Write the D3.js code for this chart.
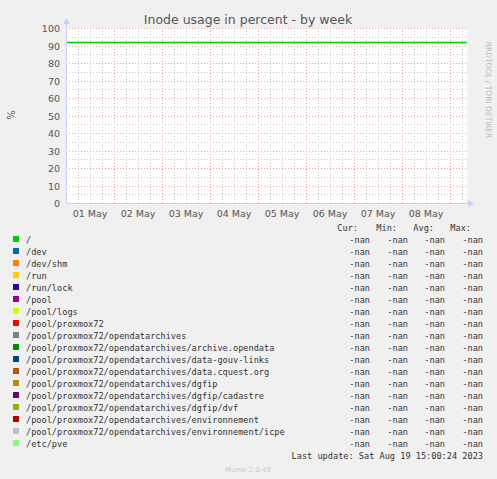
<!DOCTYPE html>
<html><head><meta charset="utf-8">
<script src="https://cdn.jsdelivr.net/npm/d3@7"></script>
<style>body{margin:0;background:#f0f0f0}svg{display:block}</style>
</head><body><svg id="c" width="497" height="479"></svg>
<script>
var names = ['/','/dev','/dev/shm','/run','/run/lock','/pool','/pool/logs','/pool/proxmox72',
 '/pool/proxmox72/opendatarchives','/pool/proxmox72/opendatarchives/archive.opendata',
 '/pool/proxmox72/opendatarchives/data-gouv-links','/pool/proxmox72/opendatarchives/data.cquest.org',
 '/pool/proxmox72/opendatarchives/dgfip','/pool/proxmox72/opendatarchives/dgfip/cadastre',
 '/pool/proxmox72/opendatarchives/dgfip/dvf','/pool/proxmox72/opendatarchives/environnement',
 '/pool/proxmox72/opendatarchives/environnement/icpe','/etc/pve'];
var colors = ['#00cc00','#0066b3','#ff8000','#ffcc00','#330099','#990099','#ccff00','#ff0000','#808080',
 '#008f00','#00487d','#b35a00','#b38f00','#6b006b','#8fb300','#b30000','#bebebe','#80ff80'];
var rootSeries = [92, 92];
var dayLabels = ['01 May','02 May','03 May','04 May','05 May','06 May','07 May','08 May'];
var yTicks = d3.range(0, 101, 10);

var svg = d3.select('#c');
var L = 66, R = 467, T = 28, B = 203;
var t0 = new Date(2023,4,1), t1 = new Date(t0.getTime() + 8.354*864e5);
var x = d3.scaleTime().domain([t0,t1]).range([L,R]);
var y = d3.scaleLinear().domain([0,100]).range([B,T]);

svg.append('rect').attr('x',L).attr('y',T).attr('width',R-L).attr('height',B-T).attr('fill','#fff');
var g = svg.append('g').attr('shape-rendering','crispEdges');
d3.timeHour.every(6).range(t0,t1).forEach(function(d){
  var px = Math.round(x(d))+0.5, major = d.getHours()===0;
  g.append('line').attr('x1',px).attr('x2',px).attr('y1',T).attr('y2',B)
   .attr('stroke',major?'#f0a0a0':'#c8c8c8').attr('stroke-dasharray','1,2');
});
d3.range(0,101,5).forEach(function(v){
  var py = Math.round(y(v))+0.5, major = v%10===0;
  g.append('line').attr('x1',L).attr('x2',R).attr('y1',py).attr('y2',py)
   .attr('stroke',major?'#f0a0a0':'#c8c8c8').attr('stroke-dasharray','1,2');
});
g.append('line').attr('x1',L+0.5).attr('x2',L+0.5).attr('y1',T-6).attr('y2',B).attr('stroke','#ccccff');
g.append('line').attr('x1',L).attr('x2',R+4).attr('y1',B+0.5).attr('y2',B+0.5).attr('stroke','#ccccff');
svg.append('path').attr('d','M'+(L-3)+','+(T-4)+'L'+(L+4)+','+(T-4)+'L'+(L+0.5)+','+(T-10)+'Z').attr('fill','#ccccff');
svg.append('path').attr('d','M'+(R+1)+','+(B-3)+'L'+(R+1)+','+(B+4)+'L'+(R+7)+','+(B+0.5)+'Z').attr('fill','#ccccff');

svg.append('path').datum(rootSeries)
  .attr('d', d3.line().x(function(d,i){return i?R:L+1}).y(function(d){return Math.round(y(d))+0.5}))
  .attr('stroke',colors[0]).attr('stroke-width',1.5).attr('fill','none');

var font = 'DejaVu Sans, sans-serif', mono = 'DejaVu Sans Mono, monospace', tc = '#555';
yTicks.forEach(function(v){
  svg.append('text').attr('x',L-6).attr('y',y(v)+4).attr('text-anchor','end')
   .attr('font-family',font).attr('font-size',9.5).attr('fill',tc).text(v);
});
dayLabels.forEach(function(s,i){
  svg.append('text').attr('x',x(d3.timeHour.offset(t0,24*i+12))).attr('y',B+14).attr('text-anchor','middle')
   .attr('font-family',font).attr('font-size',9.5).attr('fill',tc).text(s);
});
svg.append('text').attr('x',248).attr('y',24).attr('text-anchor','middle')
  .attr('font-family',font).attr('font-size',12.5).attr('fill',tc).text('Inode usage in percent - by week');
svg.append('text').attr('transform','translate(15,115) rotate(-90)').attr('text-anchor','middle')
  .attr('font-family',font).attr('font-size',10).attr('fill',tc).text('%');
svg.append('text').attr('transform','translate(486,90) rotate(90)').attr('text-anchor','middle')
  .attr('font-family',font).attr('font-size',7.5).attr('fill','#bbb').text('RRDTOOL / TOBI OETIKER');

var ms = 8.6;
['Cur:','Min:','Avg:','Max:'].forEach(function(h,i){
  svg.append('text').attr('x',[358,397,434,471][i]).attr('y',231).attr('text-anchor','end')
   .attr('font-family',mono).attr('font-size',ms).attr('fill','#333').text(h);
});
names.forEach(function(n,i){
  var py = 243 + i*12;
  svg.append('rect').attr('x',13).attr('y',py-7).attr('width',6).attr('height',6).attr('fill',colors[i]);
  svg.append('text').attr('x',26).attr('y',py).attr('font-family',mono).attr('font-size',ms).attr('fill','#333').text(n);
  [370,408,445,483].forEach(function(cx){
    svg.append('text').attr('x',cx).attr('y',py).attr('text-anchor','end')
     .attr('font-family',mono).attr('font-size',ms).attr('fill','#333').text('-nan');
  });
});
svg.append('text').attr('x',483).attr('y',459).attr('text-anchor','end')
  .attr('font-family',mono).attr('font-size',ms).attr('fill','#333').text('Last update: Sat Aug 19 15:00:24 2023');
svg.append('text').attr('x',248).attr('y',472).attr('text-anchor','middle')
  .attr('font-family',font).attr('font-size',7).attr('fill','#ccc').text('Munin 2.0.49');
</script></body></html>
